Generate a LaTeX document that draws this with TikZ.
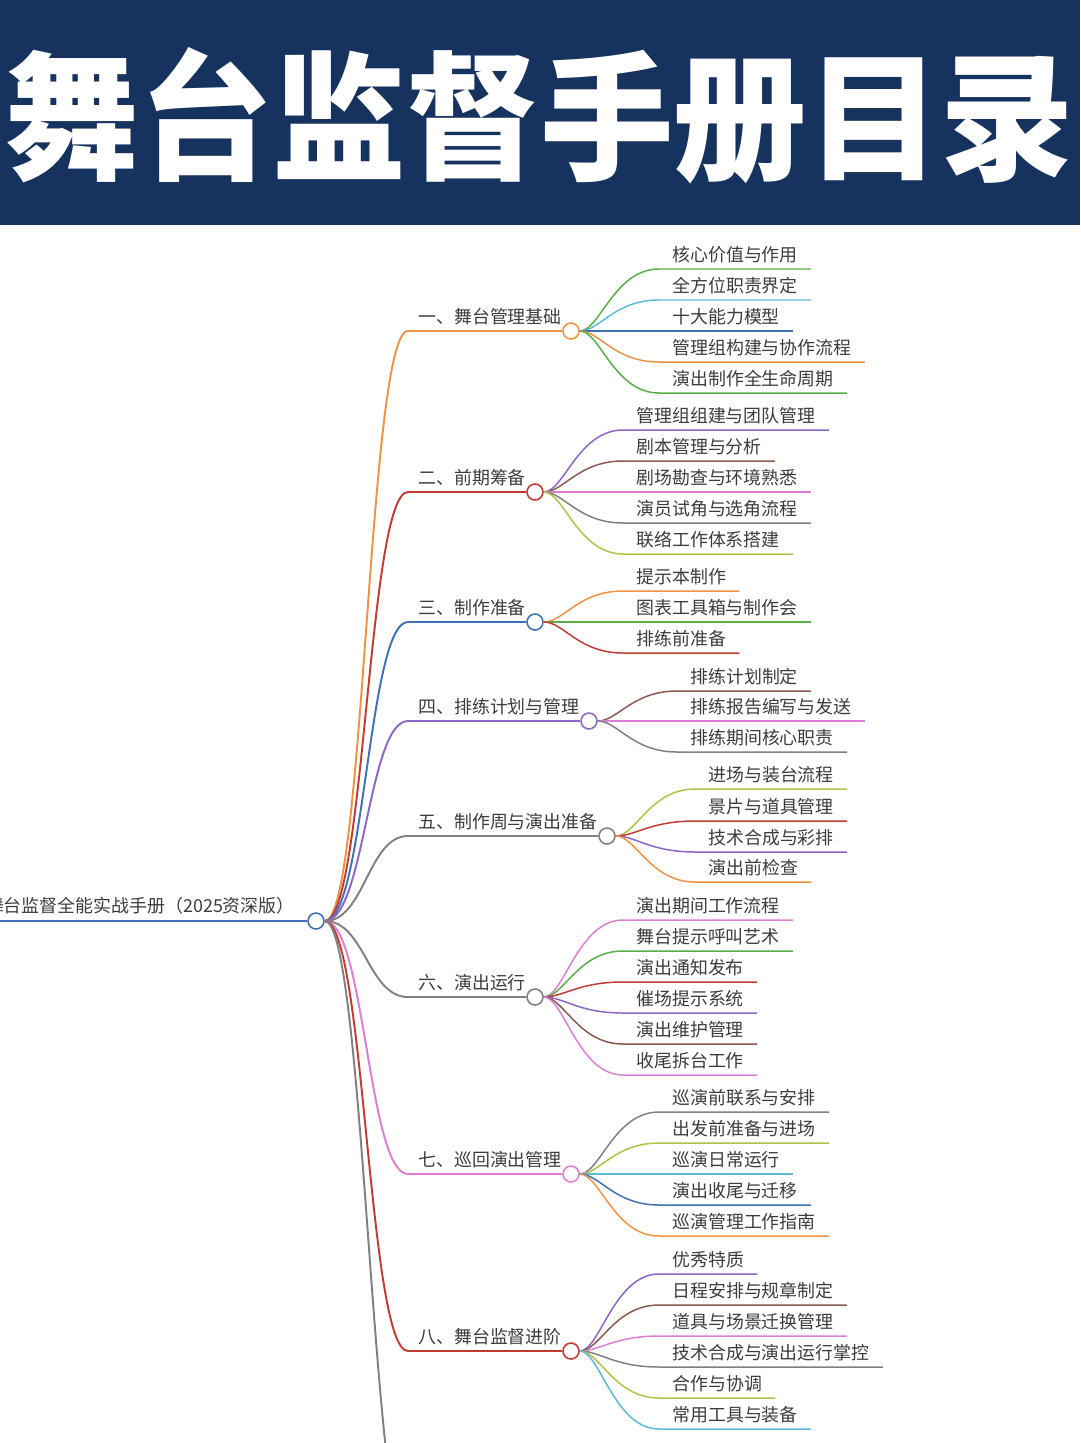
\documentclass[tikz,border=0pt]{standalone}
\usepackage{fontspec}
\setmainfont{Noto Sans CJK SC}
\usepackage{tikz}
\usetikzlibrary{positioning}
\definecolor{navy}{HTML}{16325E}
\definecolor{txtgray}{HTML}{3C3C3C}
\definecolor{cOrange}{HTML}{EE9246}
\definecolor{cRed}{HTML}{C23B33}
\definecolor{cBlue}{HTML}{3E72B4}
\definecolor{cPurple}{HTML}{8C67C6}
\definecolor{cGray}{HTML}{808080}
\definecolor{cPink}{HTML}{DC7FD4}
\definecolor{cGreen}{HTML}{5AAE48}
\definecolor{cCyan}{HTML}{5DBAD8}
\definecolor{cBrown}{HTML}{8A5A4E}
\definecolor{cOlive}{HTML}{B3C04A}
\newcommand{\mapfont}{\fontsize{10.2pt}{12pt}\selectfont}
\newcommand{\headfont}{\fontsize{76pt}{76pt}\selectfont\bfseries}
\tikzset{
  rootline/.style={line width=1.2pt, draw=cBlue},
  topicline/.style={line width=1.1pt},
  leafline/.style={line width=0.85pt},
  knot/.style={circle, draw, fill=white, line width=0.9pt, minimum size=0.32cm, inner sep=0pt},
  topic/.style={anchor=south west, inner xsep=0.2cm, inner ysep=0.12cm, font=\mapfont, text=txtgray},
  leaf/.style={anchor=south west, inner xsep=0.26cm, inner ysep=0.12cm, font=\mapfont, text=txtgray},
  trunk/.style={to path={.. controls +(40,0) and +(-40,0) .. (\tikztotarget) \tikztonodes}},
  twig/.style={to path={.. controls +(20,0) and +(-45,0) .. (\tikztotarget) \tikztonodes}},
}

\begin{document}
\begin{tikzpicture}[x=0.02cm, y=-0.02cm]
  \useasboundingbox (0,0) rectangle (1080,1443);

  % Header
  \fill[navy] (0,0) rectangle (1080,225);
  \node[font=\headfont, text=white, yscale=1.04] (title) at (540,116) {舞台监督手册目录};

  % Root
  \node[knot, draw=cBlue] (root) at (316,921) {};
  \node[leaf, anchor=south east] (rootlabel) at (308,921) {舞台监督全能实战手册（2025资深版）};
  \coordinate (rootend) at (0,921);
  \draw[rootline] (rootend) -- (root);

  % Topics
  \node[topic] (t1) at (408,331) {一、舞台管理基础};
  \node[knot, draw=cOrange] (b1) at (571,331) {};
  \node[topic] (t2) at (408,492) {二、前期筹备};
  \node[knot, draw=cRed] (b2) at (535,492) {};
  \node[topic] (t3) at (408,622) {三、制作准备};
  \node[knot, draw=cBlue] (b3) at (535,622) {};
  \node[topic] (t4) at (408,721) {四、排练计划与管理};
  \node[knot, draw=cPurple] (b4) at (589,721) {};
  \node[topic] (t5) at (408,836) {五、制作周与演出准备};
  \node[knot, draw=cGray] (b5) at (607,836) {};
  \node[topic] (t6) at (408,997) {六、演出运行};
  \node[knot, draw=cGray] (b6) at (535,997) {};
  \node[topic] (t7) at (408,1174) {七、巡回演出管理};
  \node[knot, draw=cPink] (b7) at (571,1174) {};
  \node[topic] (t8) at (408,1351) {八、舞台监督进阶};
  \node[knot, draw=cRed] (b8) at (571,1351) {};
  \coordinate (t9) at (412,1560);

  \draw[topicline, cOrange] (root.east) to[trunk] (t1.south west) -- (b1);
  \draw[topicline, cRed] (root.east) to[trunk] (t2.south west) -- (b2);
  \draw[topicline, cBlue] (root.east) to[trunk] (t3.south west) -- (b3);
  \draw[topicline, cPurple] (root.east) to[trunk] (t4.south west) -- (b4);
  \draw[topicline, cGray] (root.east) to[trunk] (t5.south west) -- (b5);
  \draw[topicline, cGray] (root.east) to[trunk] (t6.south west) -- (b6);
  \draw[topicline, cPink] (root.east) to[trunk] (t7.south west) -- (b7);
  \draw[topicline, cRed] (root.east) to[trunk] (t8.south west) -- (b8);
  \draw[topicline, cGray] (root.east) to[trunk] (t9);

  % Leaves: 一
  \node[leaf] (a11) at (659,269) {核心价值与作用};
  \node[leaf] (a12) at (659,300) {全方位职责界定};
  \node[leaf] (a13) at (659,331) {十大能力模型};
  \node[leaf] (a14) at (659,362) {管理组构建与协作流程};
  \node[leaf] (a15) at (659,393) {演出制作全生命周期};
  \draw[leafline, cGreen] (b1.east) to[twig] (a11.south west) -- (a11.south east);
  \draw[leafline, cCyan] (b1.east) to[twig] (a12.south west) -- (a12.south east);
  \draw[leafline, cBlue] (b1.east) to[twig] (a13.south west) -- (a13.south east);
  \draw[leafline, cOrange] (b1.east) to[twig] (a14.south west) -- (a14.south east);
  \draw[leafline, cGreen] (b1.east) to[twig] (a15.south west) -- (a15.south east);

  % Leaves: 二
  \node[leaf] (a21) at (623,430) {管理组组建与团队管理};
  \node[leaf] (a22) at (623,461) {剧本管理与分析};
  \node[leaf] (a23) at (623,492) {剧场勘查与环境熟悉};
  \node[leaf] (a24) at (623,523) {演员试角与选角流程};
  \node[leaf] (a25) at (623,554) {联络工作体系搭建};
  \draw[leafline, cPurple] (b2.east) to[twig] (a21.south west) -- (a21.south east);
  \draw[leafline, cBrown] (b2.east) to[twig] (a22.south west) -- (a22.south east);
  \draw[leafline, cPink] (b2.east) to[twig] (a23.south west) -- (a23.south east);
  \draw[leafline, cGray] (b2.east) to[twig] (a24.south west) -- (a24.south east);
  \draw[leafline, cOlive] (b2.east) to[twig] (a25.south west) -- (a25.south east);

  % Leaves: 三
  \node[leaf] (a31) at (623,591) {提示本制作};
  \node[leaf] (a32) at (623,622) {图表工具箱与制作会};
  \node[leaf] (a33) at (623,653) {排练前准备};
  \draw[leafline, cOrange] (b3.east) to[twig] (a31.south west) -- (a31.south east);
  \draw[leafline, cGreen] (b3.east) to[twig] (a32.south west) -- (a32.south east);
  \draw[leafline, cRed] (b3.east) to[twig] (a33.south west) -- (a33.south east);

  % Leaves: 四
  \node[leaf] (a41) at (677,691) {排练计划制定};
  \node[leaf] (a42) at (677,721) {排练报告编写与发送};
  \node[leaf] (a43) at (677,752) {排练期间核心职责};
  \draw[leafline, cBrown] (b4.east) to[twig] (a41.south west) -- (a41.south east);
  \draw[leafline, cPink] (b4.east) to[twig] (a42.south west) -- (a42.south east);
  \draw[leafline, cGray] (b4.east) to[twig] (a43.south west) -- (a43.south east);

  % Leaves: 五
  \node[leaf] (a51) at (695,789) {进场与装台流程};
  \node[leaf] (a52) at (695,821) {景片与道具管理};
  \node[leaf] (a53) at (695,852) {技术合成与彩排};
  \node[leaf] (a54) at (695,882) {演出前检查};
  \draw[leafline, cOlive] (b5.east) to[twig] (a51.south west) -- (a51.south east);
  \draw[leafline, cRed] (b5.east) to[twig] (a52.south west) -- (a52.south east);
  \draw[leafline, cPurple] (b5.east) to[twig] (a53.south west) -- (a53.south east);
  \draw[leafline, cOrange] (b5.east) to[twig] (a54.south west) -- (a54.south east);

  % Leaves: 六
  \node[leaf] (a61) at (623,920) {演出期间工作流程};
  \node[leaf] (a62) at (623,951) {舞台提示呼叫艺术};
  \node[leaf] (a63) at (623,982) {演出通知发布};
  \node[leaf] (a64) at (623,1013) {催场提示系统};
  \node[leaf] (a65) at (623,1044) {演出维护管理};
  \node[leaf] (a66) at (623,1075) {收尾拆台工作};
  \draw[leafline, cPink] (b6.east) to[twig] (a61.south west) -- (a61.south east);
  \draw[leafline, cGreen] (b6.east) to[twig] (a62.south west) -- (a62.south east);
  \draw[leafline, cRed] (b6.east) to[twig] (a63.south west) -- (a63.south east);
  \draw[leafline, cPurple] (b6.east) to[twig] (a64.south west) -- (a64.south east);
  \draw[leafline, cBrown] (b6.east) to[twig] (a65.south west) -- (a65.south east);
  \draw[leafline, cPink] (b6.east) to[twig] (a66.south west) -- (a66.south east);

  % Leaves: 七
  \node[leaf] (a71) at (659,1112) {巡演前联系与安排};
  \node[leaf] (a72) at (659,1143) {出发前准备与进场};
  \node[leaf] (a73) at (659,1174) {巡演日常运行};
  \node[leaf] (a74) at (659,1205) {演出收尾与迁移};
  \node[leaf] (a75) at (659,1236) {巡演管理工作指南};
  \draw[leafline, cGray] (b7.east) to[twig] (a71.south west) -- (a71.south east);
  \draw[leafline, cOlive] (b7.east) to[twig] (a72.south west) -- (a72.south east);
  \draw[leafline, cCyan] (b7.east) to[twig] (a73.south west) -- (a73.south east);
  \draw[leafline, cBlue] (b7.east) to[twig] (a74.south west) -- (a74.south east);
  \draw[leafline, cOrange] (b7.east) to[twig] (a75.south west) -- (a75.south east);

  % Leaves: 八
  \node[leaf] (a81) at (659,1274) {优秀特质};
  \node[leaf] (a82) at (659,1305) {日程安排与规章制定};
  \node[leaf] (a83) at (659,1336) {道具与场景迁换管理};
  \node[leaf] (a84) at (659,1367) {技术合成与演出运行掌控};
  \node[leaf] (a85) at (659,1398) {合作与协调};
  \node[leaf] (a86) at (659,1429) {常用工具与装备};
  \draw[leafline, cPurple] (b8.east) to[twig] (a81.south west) -- (a81.south east);
  \draw[leafline, cBrown] (b8.east) to[twig] (a82.south west) -- (a82.south east);
  \draw[leafline, cPink] (b8.east) to[twig] (a83.south west) -- (a83.south east);
  \draw[leafline, cGray] (b8.east) to[twig] (a84.south west) -- (a84.south east);
  \draw[leafline, cOlive] (b8.east) to[twig] (a85.south west) -- (a85.south east);
  \draw[leafline, cCyan] (b8.east) to[twig] (a86.south west) -- (a86.south east);
\end{tikzpicture}
\end{document}
